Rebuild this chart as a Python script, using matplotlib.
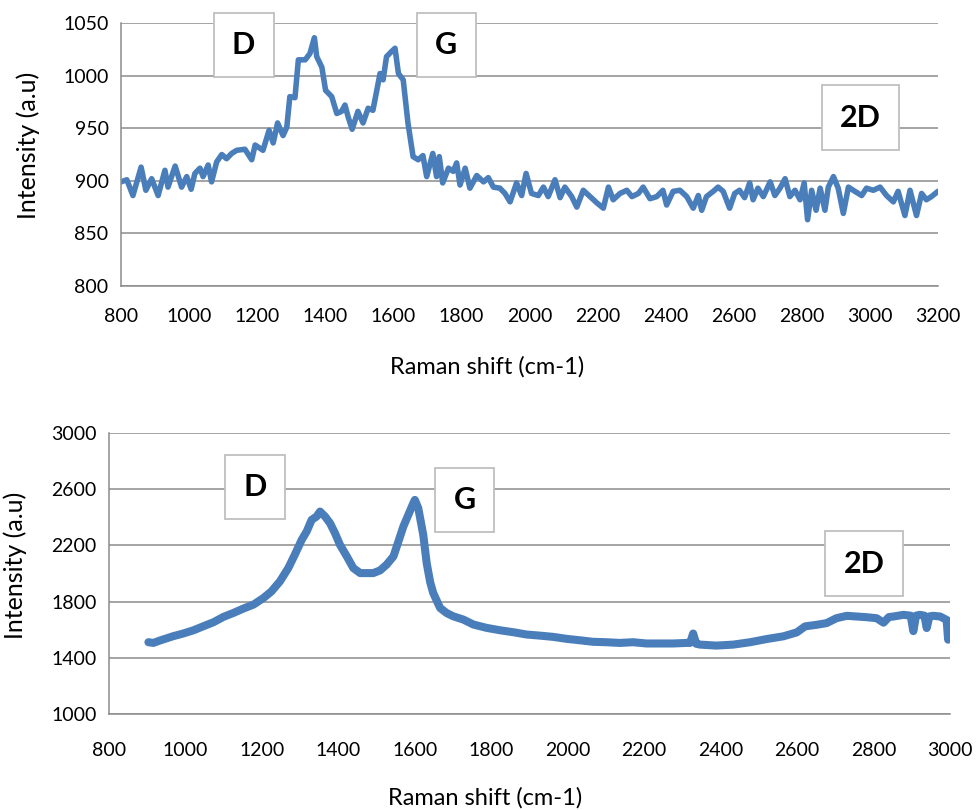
import matplotlib
matplotlib.use("Agg")
import matplotlib.pyplot as plt

plt.rcParams['font.family'] = ['Lato', 'DejaVu Sans']

# top spectrum (Raman shift, intensity)
shift_top = [800, 817, 835, 859, 873, 890, 909, 929, 938, 959, 978, 993, 1006, 1017, 1032, 1041,
             1056, 1066, 1081, 1096, 1110, 1125, 1140, 1164, 1184, 1194, 1217, 1235, 1247, 1260,
             1276, 1287, 1296, 1311, 1321, 1341, 1355, 1368, 1375, 1390, 1401, 1419, 1434, 1448,
             1458, 1467, 1479, 1496, 1511, 1526, 1540, 1561, 1570, 1580, 1595, 1605, 1615, 1629,
             1643, 1658, 1673, 1687, 1698, 1716, 1727, 1735, 1745, 1762, 1776, 1786, 1796, 1811,
             1825, 1845, 1865, 1879, 1894, 1913, 1928, 1943, 1962, 1977, 1990, 2006, 2026, 2041,
             2055, 2075, 2090, 2104, 2124, 2139, 2158, 2178, 2198, 2217, 2232, 2246, 2266, 2286,
             2301, 2320, 2334, 2354, 2374, 2392, 2403, 2422, 2442, 2462, 2481, 2496, 2506, 2520,
             2540, 2554, 2569, 2588, 2603, 2617, 2632, 2647, 2657, 2671, 2687, 2707, 2721, 2736,
             2751, 2765, 2780, 2795, 2807, 2817, 2829, 2842, 2854, 2868, 2878, 2893, 2907, 2922,
             2937, 2956, 2976, 2990, 3010, 3030, 3049, 3069, 3083, 3103, 3118, 3137, 3152, 3166,
             3181, 3200]
intensity_top = [899, 901, 886, 913, 891, 902, 886, 910, 894, 914, 894, 904, 892, 907, 912, 904,
                 915, 899, 918, 925, 921, 926, 929, 930, 920, 934, 929, 948, 936, 955,
                 943, 951, 980, 979, 1015, 1015, 1021, 1036, 1018, 1008, 986, 980, 964, 966,
                 972, 961, 949, 966, 955, 969, 967, 1002, 996, 1018, 1023, 1026, 1002, 996,
                 955, 923, 920, 924, 904, 926, 904, 923, 898, 912, 909, 917, 896, 912,
                 893, 905, 899, 903, 894, 893, 888, 880, 898, 886, 907, 888, 886, 894,
                 885, 901, 884, 894, 885, 875, 891, 885, 879, 874, 894, 882, 888, 891,
                 885, 888, 894, 883, 885, 891, 877, 890, 891, 885, 874, 886, 872, 885,
                 890, 894, 890, 874, 888, 891, 884, 898, 882, 893, 885, 899, 886, 893,
                 902, 885, 891, 882, 898, 863, 891, 872, 893, 872, 894, 904, 893, 869,
                 894, 890, 886, 893, 891, 894, 886, 880, 890, 867, 891, 867, 888, 882,
                 885, 890]

# bottom spectrum
shift_bot = [903, 916, 933, 968, 994, 1021, 1047, 1073, 1099, 1125, 1151, 1178, 1204, 1225,
             1247, 1269, 1286, 1304, 1317, 1330, 1343, 1352, 1365, 1378, 1391, 1404, 1422, 1439,
             1457, 1474, 1491, 1509, 1526, 1544, 1557, 1570, 1583, 1596, 1600, 1609, 1622, 1631,
             1640, 1648, 1666, 1683, 1700, 1727, 1753, 1788, 1823, 1858, 1892, 1927, 1962, 1997,
             2031, 2066, 2101, 2136, 2171, 2206, 2240, 2275, 2310, 2320, 2328, 2336, 2346, 2389,
             2433, 2477, 2521, 2564, 2599, 2621, 2651, 2677, 2703, 2730, 2756, 2782, 2808, 2826,
             2840, 2852, 2878, 2897, 2904, 2911, 2921, 2933, 2939, 2946, 2956, 2974, 2991, 2995,
             2999]
intensity_bot = [1511, 1506, 1523, 1554, 1573, 1596, 1625, 1653, 1691, 1719, 1750, 1779, 1826, 1873,
                 1944, 2039, 2134, 2240, 2299, 2382, 2406, 2441, 2406, 2359, 2288, 2205, 2122, 2039,
                 2003, 2003, 2003, 2022, 2063, 2122, 2228, 2335, 2418, 2501, 2524, 2465, 2275, 2074,
                 1940, 1862, 1755, 1719, 1696, 1672, 1637, 1613, 1596, 1582, 1566, 1558, 1549, 1535,
                 1525, 1514, 1511, 1506, 1511, 1502, 1502, 1502, 1506, 1506, 1573, 1500, 1494, 1487,
                 1494, 1511, 1534, 1553, 1581, 1624, 1635, 1647, 1682, 1699, 1694, 1689, 1682, 1650,
                 1690, 1694, 1706, 1700, 1590, 1700, 1706, 1700, 1612, 1695, 1699, 1694, 1670, 1529,
                 1659]

peak_names = ['D', 'G', '2D']
peak_pos_top = [(1160, 1029), (1756, 1029), (2972, 960)]
peak_pos_bot = [(1181, 2616), (1730, 2523), (2775, 2071)]

blue = '#4a7ebb'
grid_col = '#8c8c8c'

fig = plt.figure(figsize=(9.76, 8.10), dpi=100)
ax1 = fig.add_axes([0.124, 0.6469, 0.837, 0.3247])
ax2 = fig.add_axes([0.1117, 0.1185, 0.8617, 0.3469])


def style_axis(ax, xlim, ylim, yticks, xticks, xpad, xlab_xy, ylab_xy):
    ax.set_xlim(*xlim)
    ax.set_ylim(*ylim)
    ax.set_yticks(yticks)
    ax.set_xticks(xticks)
    ax.grid(axis='y', color=grid_col, linewidth=1.1)
    ax.set_axisbelow(True)
    for s in ['top', 'right']:
        ax.spines[s].set_visible(False)
    for s in ['left', 'bottom']:
        ax.spines[s].set_color(grid_col)
        ax.spines[s].set_linewidth(1.1)
    ax.tick_params(axis='both', length=0, labelsize=14, colors='black')
    ax.tick_params(axis='x', pad=xpad)
    ax.tick_params(axis='y', pad=9)
    ax.set_xlabel('Raman shift (cm-1)', fontsize=17, va='center')
    ax.set_ylabel('Intensity (a.u)', fontsize=18, va='center')
    ax.xaxis.set_label_coords(*xlab_xy)
    ax.yaxis.set_label_coords(*ylab_xy)


ax1.plot(shift_top, intensity_top, color=blue, linewidth=4.0, solid_joinstyle='round',
         solid_capstyle='round')
style_axis(ax1, (800, 3200), (800, 1050), range(800, 1051, 50), range(800, 3201, 200), 16,
           (0.448, -0.308), (-0.114, 0.536))

ax2.plot(shift_bot, intensity_bot, color=blue, linewidth=5.8, solid_joinstyle='round',
         solid_capstyle='round')
style_axis(ax2, (800, 3000), (1000, 3000), range(1000, 3001, 400), range(800, 3001, 200), 20,
           (0.447, -0.299), (-0.111, 0.53))

for ax, pos in [(ax1, peak_pos_top), (ax2, peak_pos_bot)]:
    for name, (px, py) in zip(peak_names, pos):
        ax.text(px, py, name, ha='center', va='center', fontsize=22, fontweight='bold',
                clip_on=False, zorder=5,
                bbox=dict(boxstyle='square,pad=0.6', facecolor='white', edgecolor='#bfbfbf',
                          linewidth=1.3))

fig.savefig('out.png', dpi=100)
